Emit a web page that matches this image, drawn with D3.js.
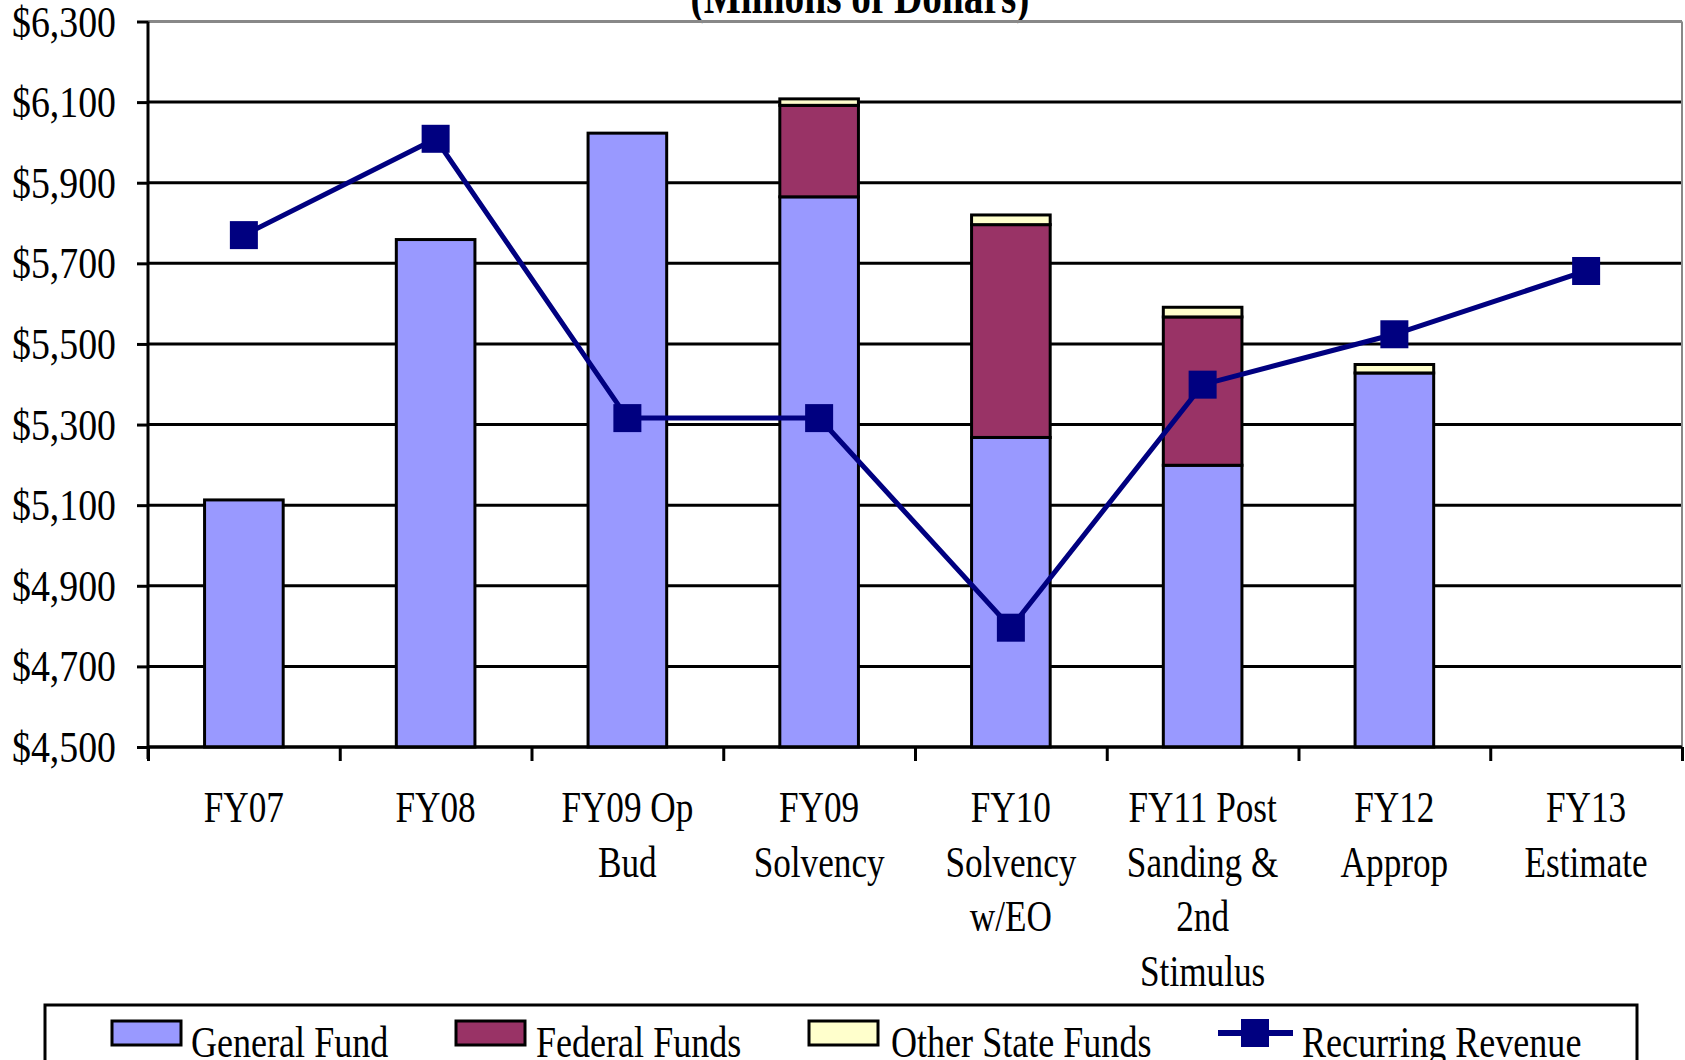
<!DOCTYPE html>
<html><head><meta charset="utf-8">
<script src="https://cdn.jsdelivr.net/npm/d3@7"></script>
<style>html,body{margin:0;padding:0;background:#fff;overflow:hidden}</style>
</head><body>
<svg id="c" width="1685" height="1060"></svg>
<script>
const categories = [["FY07"],["FY08"],["FY09 Op","Bud"],["FY09","Solvency"],["FY10","Solvency","w/EO"],["FY11 Post","Sanding &","2nd","Stimulus"],["FY12","Approp"],["FY13","Estimate"]];
const generalFund = [5113, 5759, 6023, 5865, 5268, 5199, 5428, null];
const federalFunds = [0, 0, 0, 227, 528, 368, 0, null];
const otherStateFunds = [0, 0, 0, 16, 24, 24, 21, null];
const recurringRevenue = [5770, 6009, 5316, 5316, 4796, 5399, 5524, 5681];
const yTicks = [4500, 4700, 4900, 5100, 5300, 5500, 5700, 5900, 6100, 6300];
const seriesNames = ["General Fund", "Federal Funds", "Other State Funds", "Recurring Revenue"];
const colors = ["#9999FF", "#993366", "#FFFFCC", "#000080"];

const svg = d3.select("#c");
const FONT = "'Liberation Serif','Times New Roman',serif";
const SX = 0.8, FS = 44;
const L = 148, R = 1682, T = 21.5, B = 747;
const keys = categories.map(c => c.join(" "));
const x = d3.scaleBand().domain(keys).range([L, R]).paddingInner(0.59).paddingOuter(0.295);
const y = d3.scaleLinear().domain([4500, 6300]).range([B, T]);

function stxt(g, tx, ty, str, anchor, opts) {
  opts = opts || {};
  return g.append("text")
    .attr("transform", `translate(${tx},${ty}) scale(${opts.sx || SX},1)`)
    .attr("text-anchor", anchor)
    .attr("font-family", FONT)
    .attr("font-size", opts.fs || FS)
    .attr("font-weight", opts.fw || "normal")
    .attr("fill", "#000")
    .text(str);
}

// title (cut off at top)
stxt(svg, 860, 13, "(Millions of Dollars)", "middle", {fw: "bold", fs: 48, sx: 0.82});

// gridlines
svg.append("g").selectAll("line").data(yTicks).join("line")
  .attr("x1", L).attr("x2", R).attr("y1", d => y(d)).attr("y2", d => y(d))
  .attr("stroke", d => d === 6300 ? "#888" : "#000").attr("stroke-width", 3);
// right border
svg.append("line").attr("x1", R).attr("x2", R).attr("y1", T).attr("y2", B)
  .attr("stroke", "#888").attr("stroke-width", 2);

// stacked bars
const stackData = keys.map((k, i) => ({k, gf: generalFund[i], fed: federalFunds[i], oth: otherStateFunds[i]}));
const bars = svg.append("g");
stackData.forEach(d => {
  if (d.gf == null) return;
  const segs = [[4500, d.gf, colors[0]], [d.gf, d.gf + d.fed, colors[1]], [d.gf + d.fed, d.gf + d.fed + d.oth, colors[2]]];
  segs.forEach(s => {
    if (s[1] - s[0] <= 0) return;
    bars.append("rect")
      .attr("x", x(d.k)).attr("width", x.bandwidth())
      .attr("y", y(s[1])).attr("height", y(s[0]) - y(s[1]))
      .attr("fill", s[2]).attr("stroke", "#000").attr("stroke-width", 3);
  });
});

// y axis
const yAxis = d3.axisLeft(y).tickValues(yTicks).tickSize(11).tickFormat(() => "");
const yg = svg.append("g").attr("transform", `translate(${L},0)`).call(yAxis);
yg.select(".domain").attr("stroke", "#000").attr("stroke-width", 3).attr("d", `M0,${T}V${B + 12}`);
yg.selectAll(".tick line").attr("stroke", "#000").attr("stroke-width", 3);
yTicks.forEach(v => stxt(svg, 116, y(v) + 15, "$" + d3.format(",")(v), "end", {fs: 44, sx: 0.86}));

// x axis
const xb = d3.scaleLinear().domain([0, keys.length]).range([L, R]);
const xAxis = d3.axisBottom(xb).tickValues(d3.range(0, keys.length + 1)).tickSize(14).tickFormat(() => "");
const xg = svg.append("g").attr("transform", `translate(0,${B})`).call(xAxis);
xg.select(".domain").attr("stroke", "#000").attr("stroke-width", 3).attr("d", `M${L},0H${R}`);
xg.selectAll(".tick line").attr("stroke", "#000").attr("stroke-width", 3);
categories.forEach((lines, i) => {
  const cx = x(keys[i]) + x.bandwidth() / 2;
  lines.forEach((ln, j) => stxt(svg, cx, 822 + j * 54.5, ln, "middle"));
});

// line
const cxOf = i => x(keys[i]) + x.bandwidth() / 2;
const line = d3.line().x((d, i) => cxOf(i)).y(d => y(d));
svg.append("path").datum(recurringRevenue).attr("d", line)
  .attr("fill", "none").attr("stroke", colors[3]).attr("stroke-width", 5);
svg.append("g").selectAll("rect").data(recurringRevenue).join("rect")
  .attr("x", (d, i) => cxOf(i) - 14).attr("y", d => y(d) - 14)
  .attr("width", 28).attr("height", 28).attr("fill", colors[3]);

// legend
const lg = svg.append("g");
lg.append("rect").attr("x", 45).attr("y", 1005).attr("width", 1592).attr("height", 80)
  .attr("fill", "#fff").attr("stroke", "#000").attr("stroke-width", 3);
const swX = [112, 456, 809];
const txX = [191, 536, 891, 1302];
[0, 1, 2].forEach(i => {
  lg.append("rect").attr("x", swX[i]).attr("y", 1021).attr("width", 69).attr("height", 24)
    .attr("fill", colors[i]).attr("stroke", "#000").attr("stroke-width", 3);
});
lg.append("line").attr("x1", 1218).attr("x2", 1293).attr("y1", 1033).attr("y2", 1033)
  .attr("stroke", colors[3]).attr("stroke-width", 6);
lg.append("rect").attr("x", 1241).attr("y", 1019).attr("width", 28).attr("height", 28).attr("fill", colors[3]);
seriesNames.forEach((n, i) => stxt(lg, txX[i], 1057, n, "start", {sx: 0.82}));
</script>
</body></html>
